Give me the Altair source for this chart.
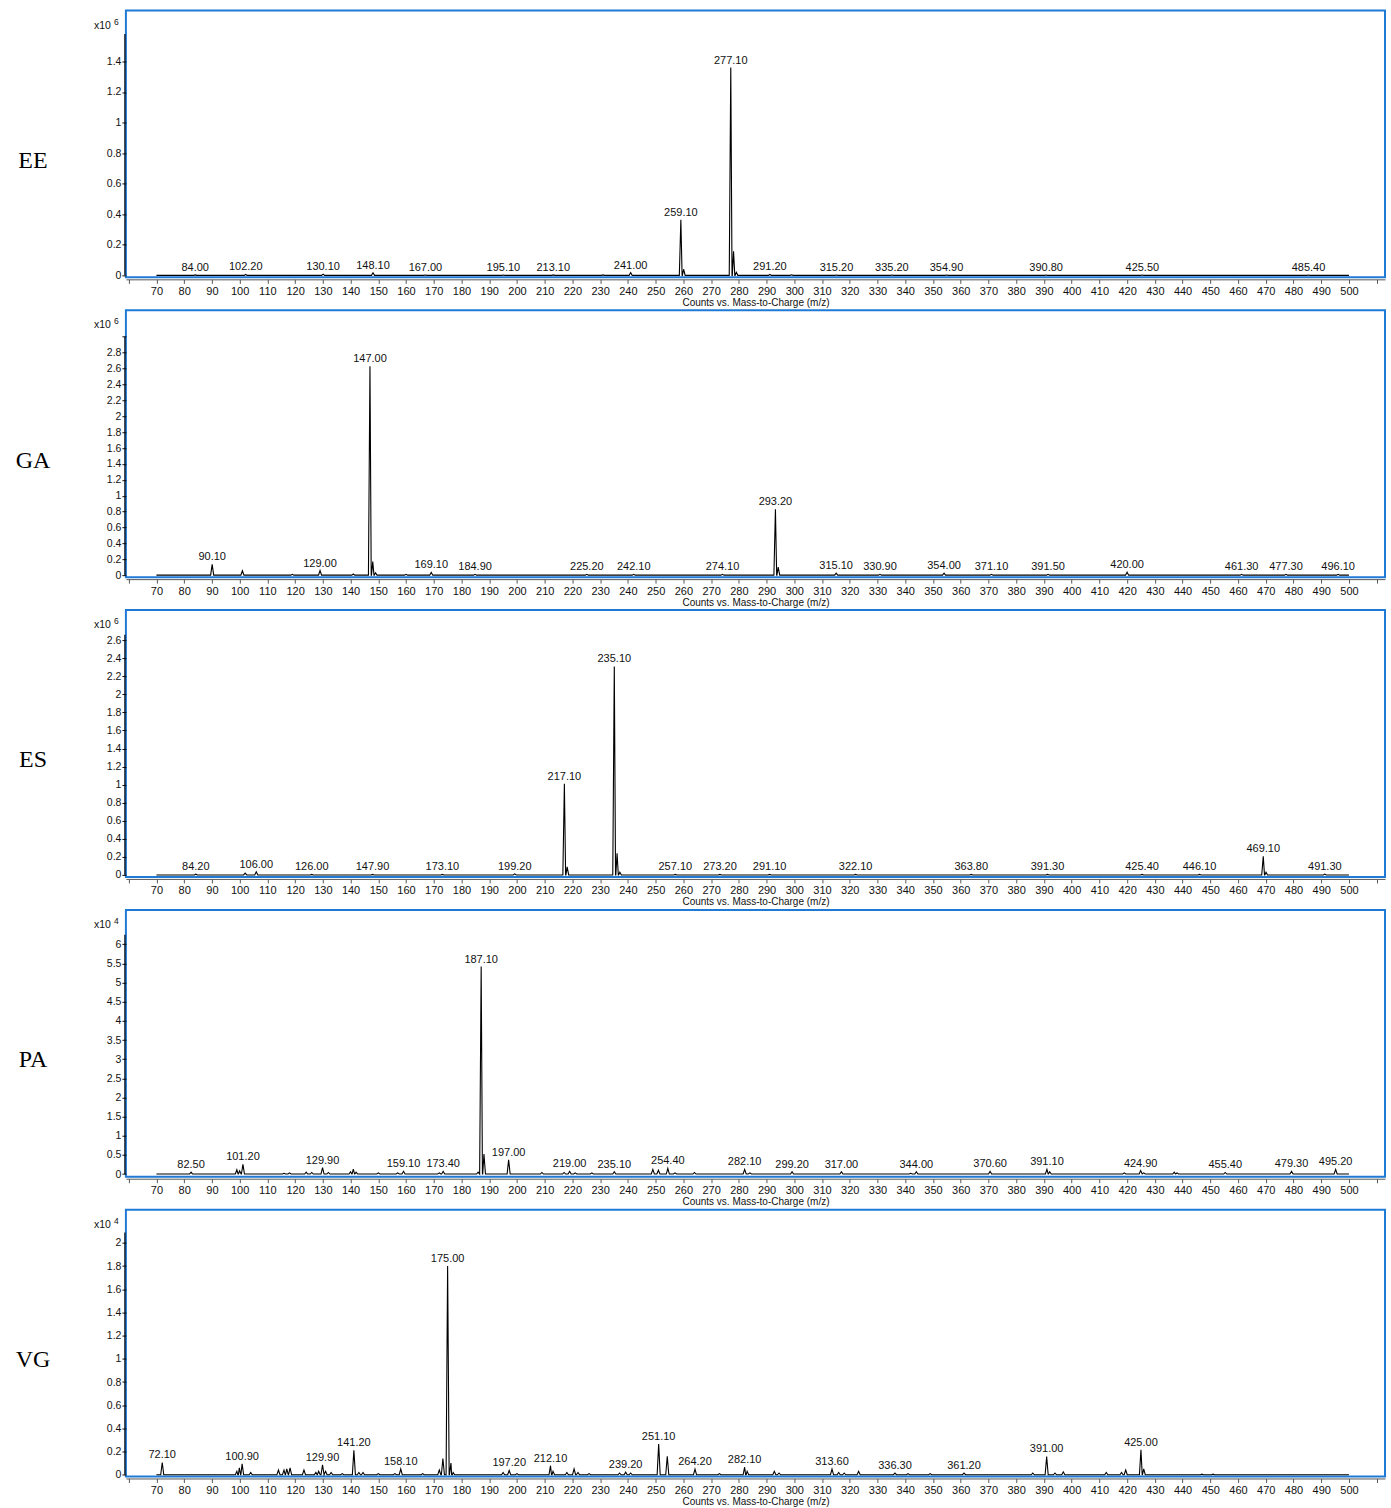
import altair as alt
import pandas as pd

# Acquisition range and drawing half-width of each centroid peak (m/z units)
SCAN_RANGE = [70, 500]
PEAK_HALF_WIDTH = 0.55

SANS = "Liberation Sans"
SERIF = "Liberation Serif"

# ---- EE (counts x10^6) ----
ee_mz = [84.0, 102.2, 130.1, 148.1, 167.0, 195.1, 213.1, 231.0, 241.0, 259.1, 260.1,
         277.1, 278.1, 279.1, 291.2, 299.0, 315.2, 335.2, 354.9, 390.8, 425.5, 485.4]
ee_int = [0.003, 0.006, 0.008, 0.017, 0.002, 0.002, 0.003, 0.003, 0.018, 0.364, 0.04,
          1.36, 0.158, 0.02, 0.006, 0.004, 0.002, 0.002, 0.002, 0.002, 0.002, 0.002]
ee_labelled = [84.0, 102.2, 130.1, 148.1, 167.0, 195.1, 213.1, 241.0, 259.1, 277.1,
               291.2, 315.2, 335.2, 354.9, 390.8, 425.5, 485.4]

# ---- GA (counts x10^6) ----
ga_mz = [90.1, 101.0, 119.0, 129.0, 141.0, 147.0, 148.0, 149.0, 160.0, 169.1, 184.9,
         225.2, 242.1, 274.1, 293.2, 294.2, 315.1, 330.9, 354.0, 371.1, 391.5, 420.0,
         461.3, 477.3, 496.1]
ga_int = [0.135, 0.055, 0.01, 0.058, 0.015, 2.63, 0.17, 0.03, 0.01, 0.035, 0.01,
          0.01, 0.01, 0.01, 0.83, 0.1, 0.025, 0.01, 0.025, 0.01, 0.01, 0.038,
          0.01, 0.01, 0.01]
ga_labelled = [90.1, 129.0, 147.0, 169.1, 184.9, 225.2, 242.1, 274.1, 293.2, 315.1,
               330.9, 354.0, 371.1, 391.5, 420.0, 461.3, 477.3, 496.1]

# ---- ES (counts x10^6) ----
es_mz = [84.2, 102.0, 106.0, 126.0, 147.9, 173.1, 199.2, 217.1, 218.1, 235.1, 236.1,
         237.1, 257.1, 273.2, 291.1, 322.1, 363.8, 391.3, 425.4, 446.1, 469.1, 470.1, 491.3]
es_int = [0.008, 0.02, 0.035, 0.006, 0.006, 0.006, 0.012, 1.01, 0.09, 2.31, 0.24,
          0.03, 0.006, 0.006, 0.006, 0.006, 0.006, 0.006, 0.006, 0.006, 0.206, 0.03, 0.01]
es_labelled = [84.2, 106.0, 126.0, 147.9, 173.1, 199.2, 217.1, 235.1, 257.1, 273.2,
               291.1, 322.1, 363.8, 391.3, 425.4, 446.1, 469.1, 491.3]

# ---- PA (counts x10^4) ----
pa_mz = [82.5, 99.0, 100.0, 101.2, 116.0, 118.0, 124.0, 126.0, 129.9, 132.0, 140.0,
         141.0, 142.0, 150.0, 157.0, 159.1, 172.0, 173.4, 186.0, 187.1, 188.1, 197.0,
         209.0, 217.0, 219.0, 221.0, 227.0, 235.1, 249.0, 251.0, 254.4, 257.0, 264.0,
         282.1, 284.0, 299.2, 317.0, 342.0, 344.0, 370.6, 391.1, 392.1, 419.0, 424.9,
         426.0, 437.0, 438.0, 455.4, 479.3, 495.2]
pa_int = [0.05, 0.11, 0.08, 0.25, 0.02, 0.03, 0.05, 0.04, 0.17, 0.04, 0.06,
          0.13, 0.05, 0.03, 0.03, 0.07, 0.03, 0.07, 0.05, 5.42, 0.52, 0.37,
          0.04, 0.04, 0.07, 0.03, 0.03, 0.06, 0.12, 0.10, 0.15, 0.03, 0.04,
          0.12, 0.03, 0.06, 0.06, 0.02, 0.06, 0.07, 0.12, 0.06, 0.03, 0.09,
          0.03, 0.05, 0.03, 0.04, 0.07, 0.12]
pa_labelled = [82.5, 101.2, 129.9, 159.1, 173.4, 187.1, 197.0, 219.0, 235.1, 254.4,
               282.1, 299.2, 317.0, 344.0, 370.6, 391.1, 424.9, 455.4, 479.3, 495.2]

# ---- VG (counts x10^4) ----
vg_mz = [72.1, 99.0, 99.9, 100.9, 104.0, 114.0, 116.0, 117.0, 118.2, 123.2, 127.5,
         128.5, 129.9, 131.0, 133.0, 137.0, 141.2, 143.0, 144.5, 150.0, 156.0, 158.1,
         166.0, 172.0, 173.3, 175.0, 176.2, 177.0, 195.0, 197.2, 200.0, 212.1, 213.0,
         218.0, 220.6, 222.0, 226.0, 237.0, 239.2, 241.0, 251.1, 254.2, 264.2, 273.0,
         282.1, 283.0, 292.8, 294.5, 313.6, 316.0, 318.0, 323.2, 336.3, 341.0, 349.0,
         361.2, 386.0, 391.0, 394.0, 397.0, 412.5, 418.0, 419.5, 425.0, 426.0, 447.0, 451.0]
vg_int = [0.106, 0.03, 0.06, 0.095, 0.02, 0.04, 0.04, 0.05, 0.06, 0.04, 0.02,
          0.03, 0.086, 0.03, 0.02, 0.01, 0.21, 0.02, 0.02, 0.01, 0.01, 0.05,
          0.01, 0.04, 0.14, 1.80, 0.10, 0.02, 0.02, 0.037, 0.01, 0.078, 0.03,
          0.02, 0.05, 0.02, 0.01, 0.015, 0.022, 0.015, 0.264, 0.16, 0.048, 0.01,
          0.065, 0.03, 0.03, 0.015, 0.048, 0.02, 0.015, 0.03, 0.014, 0.01, 0.01,
          0.014, 0.015, 0.158, 0.015, 0.025, 0.02, 0.02, 0.04, 0.215, 0.05, 0.005, 0.005]
vg_labelled = [72.1, 100.9, 129.9, 141.2, 158.1, 175.0, 197.2, 212.1, 239.2, 251.1,
               264.2, 282.1, 313.6, 336.3, 361.2, 391.0, 425.0]

# y-axis ticks for each sample
ee_ticks = [0, 0.2, 0.4, 0.6, 0.8, 1, 1.2, 1.4]
ga_ticks = [0, 0.2, 0.4, 0.6, 0.8, 1, 1.2, 1.4, 1.6, 1.8, 2, 2.2, 2.4, 2.6, 2.8, 3]
es_ticks = [0, 0.2, 0.4, 0.6, 0.8, 1, 1.2, 1.4, 1.6, 1.8, 2, 2.2, 2.4, 2.6]
pa_ticks = [0, 0.5, 1, 1.5, 2, 2.5, 3, 3.5, 4, 4.5, 5, 5.5, 6]
vg_ticks = [0, 0.2, 0.4, 0.6, 0.8, 1, 1.2, 1.4, 1.6, 1.8, 2]

samples = [
    dict(name="EE", mz=ee_mz, inten=ee_int, labelled=ee_labelled, exp="6",
         domain=[-0.013, 1.733], ticks=ee_ticks, label_max=1.5, axis_top=1.58),
    dict(name="GA", mz=ga_mz, inten=ga_int, labelled=ga_labelled, exp="6",
         domain=[-0.025, 3.333], ticks=ga_ticks, label_max=2.9, axis_top=3.0),
    dict(name="ES", mz=es_mz, inten=es_int, labelled=es_labelled, exp="6",
         domain=[-0.022, 2.934], ticks=es_ticks, label_max=2.7, axis_top=2.66),
    dict(name="PA", mz=pa_mz, inten=pa_int, labelled=pa_labelled, exp="4",
         domain=[-0.07, 6.90], ticks=pa_ticks, label_max=6.1, axis_top=6.25),
    dict(name="VG", mz=vg_mz, inten=vg_int, labelled=vg_labelled, exp="4",
         domain=[-0.015, 2.287], ticks=vg_ticks, label_max=2.1, axis_top=2.09),
]

W, H = 1260, 267
FRAME_BLUE = "#1f7ad6"


def profile_table(mz, inten):
    """Spectrum trace: baseline across the scan range with a narrow peak at each m/z."""
    rows = [(SCAN_RANGE[0], 0.0)]
    for m, h in zip(mz, inten):
        rows += [(m - PEAK_HALF_WIDTH, 0.0), (m, h), (m + PEAK_HALF_WIDTH, 0.0)]
    rows.append((SCAN_RANGE[1], 0.0))
    df = pd.DataFrame(rows, columns=["mz", "counts"]).sort_values("mz", kind="stable")
    df["order"] = range(len(df))
    return df


def label_table(mz, inten, labelled):
    lookup = dict(zip(mz, inten))
    return pd.DataFrame({
        "mz": labelled,
        "counts": [lookup[m] for m in labelled],
        "label": [f"{m:.2f}" for m in labelled],
    })


def panel(s):
    x_enc = alt.X(
        "mz:Q",
        scale=alt.Scale(domain=[59, 513], nice=False, zero=False),
        axis=alt.Axis(
            values=list(range(60, 520, 10)),
            labelExpr="datum.value < 65 || datum.value > 505 ? '' : datum.label",
            title="Counts vs. Mass-to-Charge (m/z)",
            titleFont=SANS, titleFontSize=10, titleFontWeight="normal",
            titleColor="#111", titlePadding=1,
            labelFont=SANS, labelFontSize=11, labelColor="#111",
            labelPadding=2, labelOverlap=False, labelFlush=False,
            domainColor="#555", tickColor="#555", tickSize=4,
            offset=2, grid=False,
        ),
    )
    y_axis = alt.Axis(
        values=s["ticks"],
        labelExpr=f"datum.value > {s['label_max']} ? '' : format(datum.value, '~g')",
        domain=False, grid=False, title=None,
        labelFont=SANS, labelFontSize=10.5, labelColor="#111", labelPadding=1,
        tickColor="#111", tickSize=4,
    )
    y_enc = alt.Y("counts:Q",
                  scale=alt.Scale(domain=s["domain"], nice=False, zero=False),
                  axis=y_axis)

    trace = alt.Chart(profile_table(s["mz"], s["inten"])).mark_line(
        color="black", strokeWidth=1.1
    ).encode(x=x_enc, y=y_enc, order="order:Q")

    labels = alt.Chart(label_table(s["mz"], s["inten"], s["labelled"])).mark_text(
        baseline="bottom", dy=-2, font=SANS, fontSize=11, color="#111"
    ).encode(x=x_enc, y=y_enc, text="label:N")

    y_line = alt.Chart(pd.DataFrame({"counts": [0], "top": [s["axis_top"]]})).mark_rule(
        color="black", strokeWidth=1.2
    ).encode(x=alt.value(-1), y=y_enc, y2="top:Q")

    base = alt.Chart(pd.DataFrame({"t": ["x10"]}))
    mult = base.mark_text(align="right", baseline="middle", font=SANS, fontSize=10.5,
                          color="#111").encode(x=alt.value(-15), y=alt.value(15),
                                               text=alt.value("x10"))
    expo = base.mark_text(align="left", baseline="middle", font=SANS, fontSize=8.5,
                          color="#111").encode(x=alt.value(-12), y=alt.value(11),
                                               text=alt.value(s["exp"]))
    name = base.mark_text(align="center", baseline="middle", font=SERIF, fontSize=24,
                          color="black").encode(x=alt.value(-93), y=alt.value(H / 2 + 17),
                                                text=alt.value(s["name"]))

    return alt.layer(trace, y_line, labels, mult, expo, name).properties(width=W, height=H)


chart = alt.vconcat(*[panel(s) for s in samples], spacing=1).properties(
    padding={"left": 14, "top": 9, "right": 5, "bottom": 3},
    background="white",
).configure_view(stroke=FRAME_BLUE, strokeWidth=2)

chart.save("out.html", embed_options={"renderer": "svg", "actions": False})
